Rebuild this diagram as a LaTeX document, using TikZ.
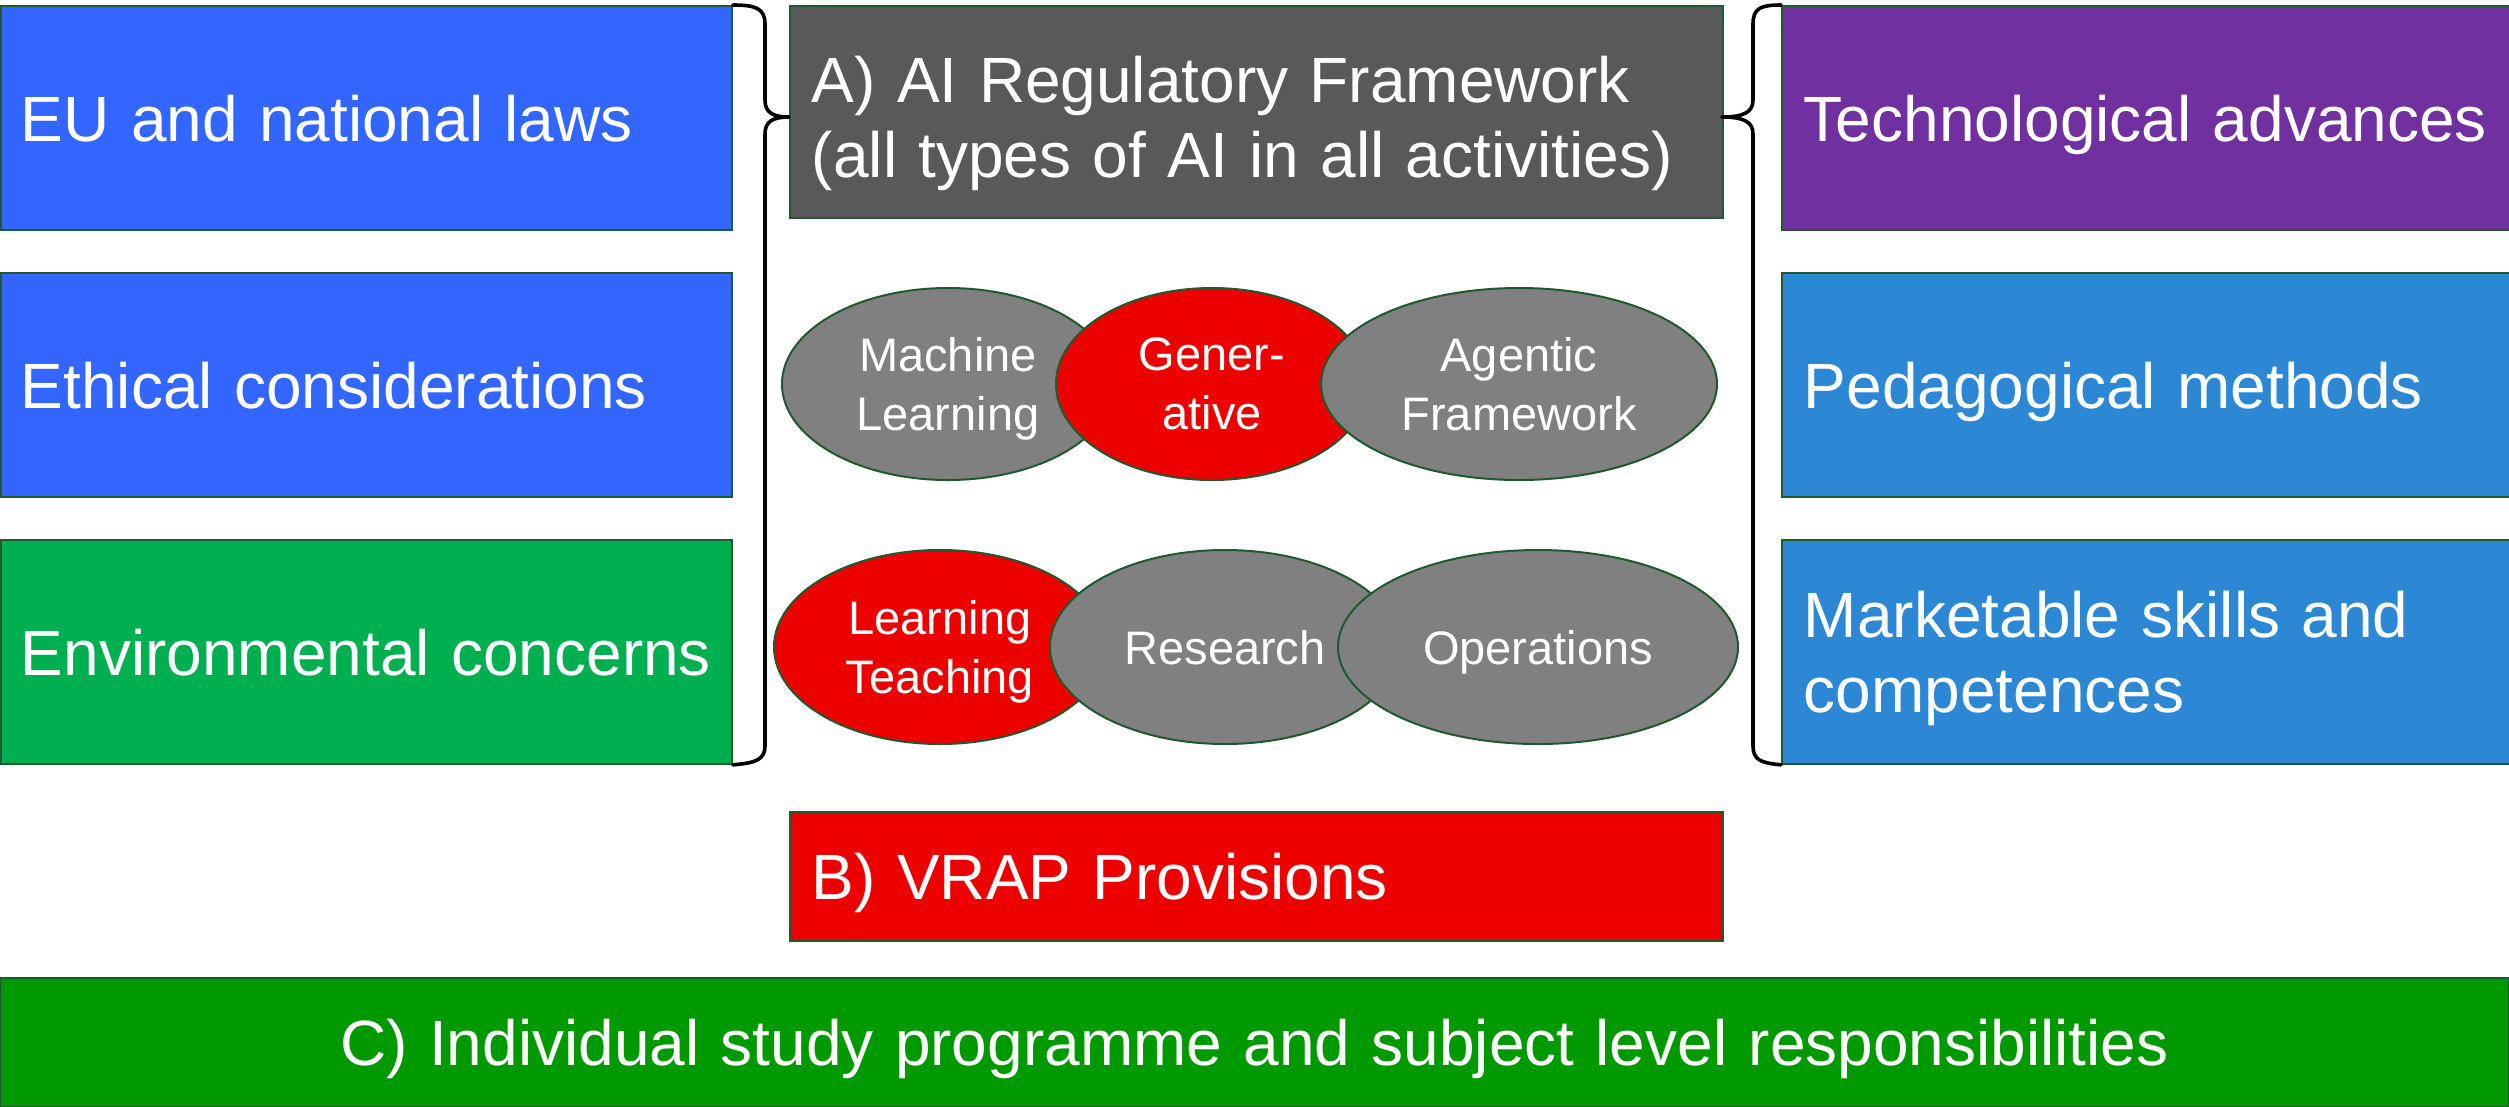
\documentclass[tikz,border=0pt]{standalone}
\usepackage{fontspec}
\setmainfont{Liberation Sans}
\usetikzlibrary{shapes.geometric}
\definecolor{bord}{RGB}{30,90,45}
\definecolor{blueA}{HTML}{3366FF}
\definecolor{greenA}{HTML}{00B050}
\definecolor{grayA}{HTML}{595959}
\definecolor{purpleA}{HTML}{7030A0}
\definecolor{blueB}{HTML}{2C87D5}
\definecolor{grayE}{HTML}{808080}
\definecolor{redA}{HTML}{EC0000}
\definecolor{greenC}{HTML}{009900}
\tikzset{
  box/.style={draw=bord, line width=0.9bp, anchor=north west, inner xsep=10bp, inner ysep=0pt,
    text=white, align=left, font=\fontsize{32bp}{37.5bp}\selectfont},
  rbox/.style={box, inner xsep=11bp},
  oneline/.style={text depth=0pt},
  ell/.style={ellipse, draw=bord, line width=1bp, inner sep=0pt, text=white, align=center,
    text depth=0pt, font=\fontsize{23.5bp}{29.5bp}\selectfont},
  brc/.style={draw=black, line width=1.8bp, line cap=round, line join=round}
}
\begin{document}
\begin{tikzpicture}[x=0.5bp,y=-0.5bp]
\useasboundingbox (0,0) rectangle (2509,1106);
\fill[white] (0,0) rectangle (2509,1106);

% left column
\node[box, oneline, fill=blueA, text width=345.5bp, minimum height=112bp] (eu) at (0,5) {EU and national laws};
\node[box, oneline, fill=blueA, text width=345.5bp, minimum height=112bp] (eth) at (0,272) {Ethical considerations};
\node[box, oneline, fill=greenA, text width=345.5bp, minimum height=112bp] (env) at (0,539) {Environmental concerns};

% right column
\node[rbox, oneline, fill=purpleA, text width=342bp, minimum height=112bp] (tech) at (1781,5) {Technological advances};
\node[rbox, oneline, fill=blueB, text width=342bp, minimum height=112bp] (ped) at (1781,272) {Pedagogical methods};
\node[rbox, fill=blueB, text width=342bp, minimum height=112bp] (mkt) at (1781,539) {\rule{0pt}{30bp}Marketable skills and\\competences};

% centre boxes
\node[rbox, fill=grayA, text width=444.5bp, minimum height=106bp] (A) at (789,5) {\rule{0pt}{35bp}A) AI Regulatory Framework\\(all types of AI in all activities)};
\node[rbox, oneline, fill=redA, text width=444.5bp, minimum height=64.5bp] (B) at (789,811) {B) VRAP Provisions};
\node[box, oneline, fill=greenC, anchor=north, align=center, text width=1234.5bp, minimum height=64.5bp] (C) at (1254.5,977) {C) Individual study programme and subject level responsibilities};

% braces
\draw[brc] (eu.north east) .. controls (755,5) and (765,8) .. (765,24) -- (765,100)
  .. controls (765,112) and (772,117) .. (789,117)
  .. controls (772,117) and (765,122) .. (765,134) -- (765,746)
  .. controls (765,760) and (755,763) .. (env.south east);
\draw[brc] (tech.north west) .. controls (1761,5) and (1753,8) .. (1753,24) -- (1753,100)
  .. controls (1753,112) and (1744,117) .. (1722,117)
  .. controls (1744,117) and (1753,122) .. (1753,134) -- (1753,746)
  .. controls (1753,760) and (1761,763) .. (mkt.south west);

% ellipses row 1
\node[ell, fill=grayE, minimum width=166bp, minimum height=96bp] (ml) at (948,384) {Machine\\Learning};
\node[ell, fill=redA, minimum width=156bp, minimum height=96bp] (gen) at (1212,384) {Gener-\\ative};
\node[ell, fill=grayE, minimum width=198bp, minimum height=96bp] (ag) at (1519,384) {Agentic\\Framework};

% ellipses row 2
\node[ell, fill=redA, minimum width=166bp, minimum height=97bp] (lt) at (940,647) {Learning\\Teaching};
\node[ell, fill=grayE, minimum width=175bp, minimum height=97bp] (res) at (1225,647) {Research};
\node[ell, fill=grayE, minimum width=200bp, minimum height=97bp] (ops) at (1538,647) {Operations};
\end{tikzpicture}
\end{document}
